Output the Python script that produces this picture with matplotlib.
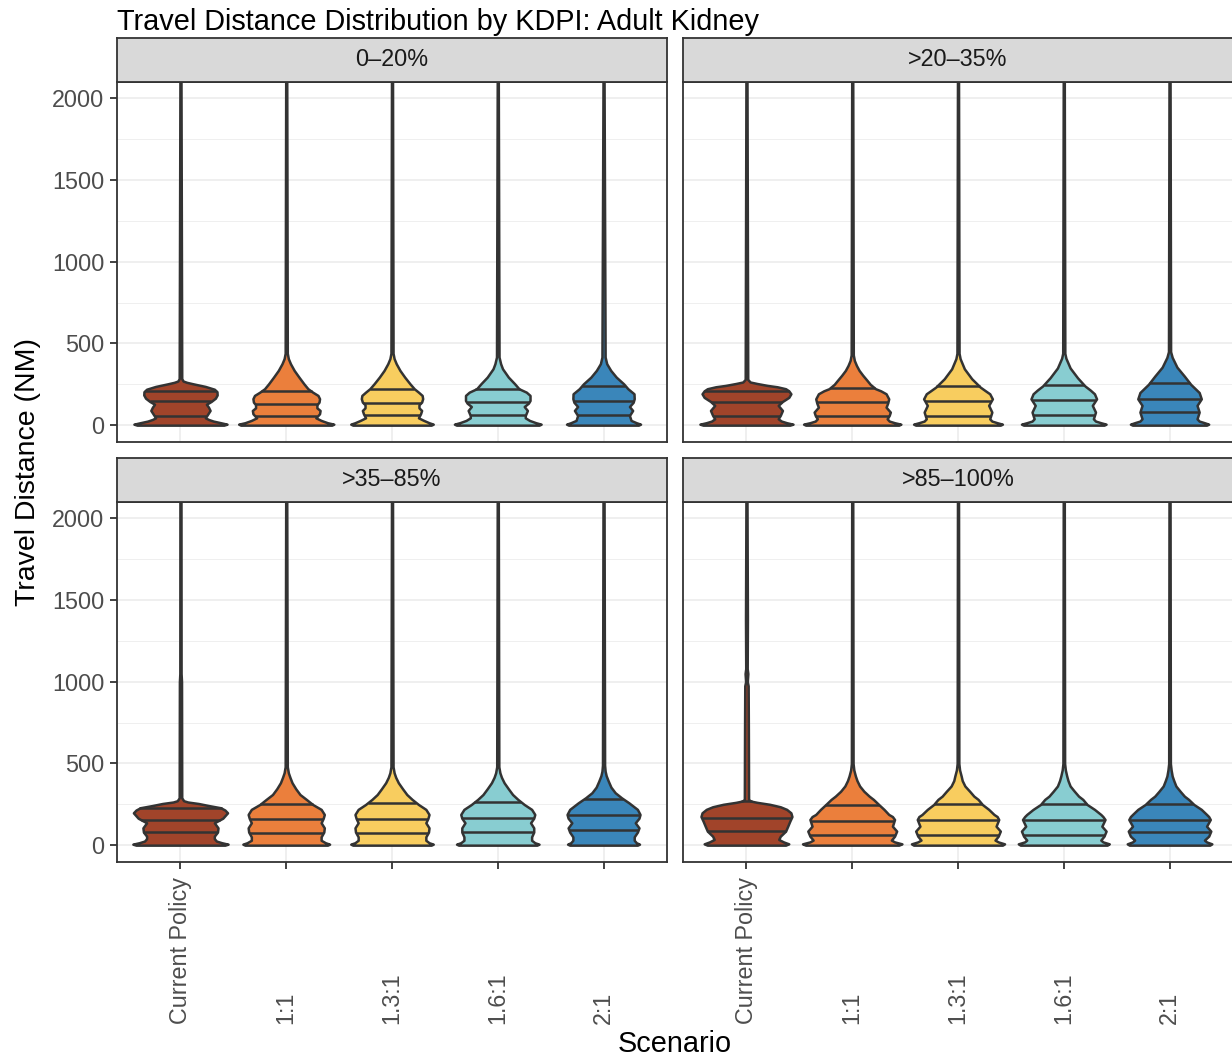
import matplotlib
matplotlib.use('Agg')
import matplotlib.pyplot as plt
import matplotlib.transforms as mtransforms
import numpy as np

plt.rcParams['font.family'] = ['Liberation Sans', 'DejaVu Sans']

TITLE = 'Travel Distance Distribution by KDPI: Adult Kidney'
X_TITLE = 'Scenario'
Y_TITLE = 'Travel Distance (NM)'
SCENARIOS = ['Current Policy', '1:1', '1.3:1', '1.6:1', '2:1']
KDPI_GROUPS = ['0–20%', '>20–35%', '>35–85%', '>85–100%']
COLORS = ['#A1442A', '#EB7F3C', '#F8CD5F', '#88CDD1', '#3A86BA']
Y_TICKS = [0, 500, 1000, 1500, 2000]
Y_MINOR = [250, 750, 1250, 1750]

# violin outlines: (distance NM, half width in category units)
SHAPE_0_20 = {
    'Current Policy': [(0, .41), (6, .44), (15, .38), (25, .31), (35, .265), (45, .235), (70, .26), (90, .28),
                       (110, .265), (128, .245), (145, .29), (165, .33), (185, .347), (205, .345), (220, .32),
                       (237, .235), (253, .12), (262, .06), (270, .025), (285, .012), (2100, .005)],
    '1:1': [(0, .43), (6, .45), (15, .39), (29, .33), (45, .28), (70, .315), (90, .32), (106, .29), (125, .29),
            (141, .31), (162, .315), (182, .30), (202, .25), (223, .205), (253, .167), (294, .12), (335, .075),
            (376, .04), (407, .02), (440, .01), (2100, .005)],
    '1.3:1': [(0, .37), (6, .39), (15, .35), (29, .30), (45, .25), (70, .27), (90, .28), (106, .255), (125, .255),
              (141, .28), (162, .29), (182, .285), (202, .25), (223, .21), (253, .17), (294, .12), (335, .075),
              (376, .04), (407, .02), (440, .01), (2100, .005)],
    '1.6:1': [(0, .39), (6, .41), (15, .36), (29, .30), (45, .26), (59, .26), (90, .28), (114, .25), (135, .29),
              (151, .305), (182, .305), (202, .27), (223, .20), (253, .16), (294, .10), (345, .045), (376, .027),
              (417, .012), (2100, .005)],
    '2:1': [(0, .33), (6, .35), (15, .31), (29, .26), (59, .245), (90, .275), (114, .245), (140, .28), (162, .29),
            (192, .288), (223, .23), (253, .19), (294, .12), (335, .068), (376, .03), (417, .015), (2100, .005)],
}
SHAPE_20_35 = {
    'Current Policy': [(0, .41), (6, .44), (15, .38), (25, .33), (39, .30), (60, .32), (90, .34), (121, .30),
                       (145, .34), (170, .40), (192, .42), (210, .40), (223, .37), (235, .29), (243, .20),
                       (255, .10), (264, .035), (280, .012), (2100, .005)],
    '1:1': [(0, .44), (6, .46), (15, .40), (25, .35), (39, .33), (60, .35), (80, .36), (110, .32), (135, .335),
            (161, .345), (192, .32), (210, .27), (223, .22), (250, .17), (274, .14), (305, .10), (335, .065),
            (365, .04), (396, .02), (430, .01), (2100, .005)],
    '1.3:1': [(0, .40), (6, .42), (15, .37), (25, .32), (39, .30), (80, .32), (121, .29), (161, .325), (192, .30),
              (210, .26), (233, .21), (284, .13), (345, .06), (407, .02), (440, .01), (2100, .005)],
    '1.6:1': [(0, .38), (6, .40), (15, .35), (25, .30), (39, .28), (80, .30), (121, .27), (161, .31), (192, .29),
              (215, .25), (240, .20), (290, .13), (350, .06), (410, .02), (440, .01), (2100, .005)],
    '2:1': [(0, .35), (6, .37), (15, .33), (25, .28), (39, .26), (80, .28), (121, .26), (161, .30), (200, .28),
            (225, .24), (250, .20), (300, .14), (355, .07), (415, .025), (450, .01), (2100, .005)],
}
SHAPE_35_85 = {
    'Current Policy': [(0, .42), (6, .45), (15, .39), (25, .34), (40, .32), (55, .32), (80, .35), (106, .355),
                       (137, .32), (165, .40), (198, .445), (215, .42), (229, .38), (242, .27), (255, .17),
                       (264, .07), (272, .03), (290, .012), (1000, .01), (1050, .006), (2100, .005)],
    '1:1': [(0, .39), (6, .41), (15, .37), (30, .33), (51, .33), (80, .355), (106, .36), (137, .33), (165, .35),
            (188, .36), (219, .33), (249, .25), (280, .19), (310, .13), (345, .09), (382, .055), (415, .035),
            (443, .02), (480, .01), (2100, .005)],
    '1.3:1': [(0, .37), (6, .39), (15, .35), (30, .32), (51, .32), (80, .345), (106, .35), (137, .32), (165, .34),
              (188, .35), (219, .32), (249, .25), (280, .19), (310, .14), (345, .10), (382, .06), (415, .035),
              (443, .02), (480, .01), (2100, .005)],
    '1.6:1': [(0, .37), (6, .39), (15, .35), (30, .32), (51, .32), (80, .34), (106, .34), (137, .31), (165, .34),
              (188, .35), (219, .32), (249, .25), (280, .19), (310, .14), (345, .10), (382, .06), (415, .035),
              (443, .02), (480, .01), (2100, .005)],
    '2:1': [(0, .32), (6, .34), (15, .31), (30, .29), (51, .29), (80, .32), (106, .335), (137, .30), (165, .335),
            (188, .345), (219, .32), (259, .24), (290, .17), (321, .11), (355, .07), (392, .045), (425, .025),
            (453, .015), (490, .01), (2100, .005)],
}
SHAPE_85_100 = {
    'Current Policy': [(0, .37), (8, .40), (20, .35), (35, .305), (55, .32), (86, .37), (116, .39), (147, .41),
                       (175, .43), (198, .42), (219, .38), (235, .32), (250, .22), (262, .10), (270, .04),
                       (280, .02), (500, .019), (700, .018), (975, .016), (1000, .008), (1050, .013), (1080, .007),
                       (1380, .009), (2100, .005)],
    '1:1': [(0, .44), (8, .47), (20, .40), (31, .37), (55, .40), (86, .42), (116, .38), (157, .40), (175, .38),
            (188, .345), (219, .30), (249, .25), (280, .20), (300, .16), (330, .11), (362, .07), (395, .045),
            (423, .03), (460, .015), (500, .008), (2100, .005)],
    '1.3:1': [(0, .42), (8, .44), (20, .38), (31, .35), (55, .38), (86, .40), (116, .36), (157, .385), (175, .37),
              (188, .34), (219, .29), (249, .23), (280, .19), (300, .15), (330, .11), (362, .065), (395, .04),
              (423, .03), (460, .015), (500, .008), (2100, .005)],
    '1.6:1': [(0, .41), (8, .43), (20, .37), (31, .35), (55, .38), (86, .40), (116, .36), (157, .39), (175, .37),
              (188, .35), (219, .29), (249, .22), (280, .18), (300, .14), (330, .10), (362, .06), (395, .04),
              (423, .028), (460, .015), (500, .008), (2100, .005)],
    '2:1': [(0, .38), (8, .40), (20, .35), (31, .33), (55, .37), (86, .39), (116, .35), (157, .385), (175, .37),
            (188, .35), (219, .30), (249, .23), (280, .18), (300, .14), (330, .10), (362, .06), (395, .04),
            (423, .025), (460, .015), (500, .008), (2100, .005)],
}
SHAPES = [SHAPE_0_20, SHAPE_20_35, SHAPE_35_85, SHAPE_85_100]

# 25/50/75% quantile lines (NM)
QUANT_0_20 = [[56, 145, 210], [53, 131, 206], [63, 135, 222], [61, 141, 219], [65, 147, 241]]
QUANT_20_35 = [[59, 141, 208], [59, 141, 227], [59, 145, 237], [65, 151, 247], [80, 161, 257]]
QUANT_35_85 = [[80, 157, 225], [76, 161, 249], [76, 161, 259], [80, 167, 263], [90, 185, 283]]
QUANT_85_100 = [[86, 167, 268], [65, 147, 245], [65, 153, 249], [65, 151, 249], [80, 157, 253]]
QUANTS = [QUANT_0_20, QUANT_20_35, QUANT_35_85, QUANT_85_100]

W, H = 1232, 1061
EDGE = '#333333'
GRID = '#EBEBEB'
LW = 1.8


def main():
    fig = plt.figure(figsize=(W / 100, H / 100), dpi=100)
    fig.patch.set_facecolor('white')

    for k, group in enumerate(KDPI_GROUPS):
        col, row = k % 2, k // 2
        left = 117 + col * 566
        top = 82 + row * 420
        ax = fig.add_axes([left / W, 1 - (top + 359.5) / H, 550 / W, 359.5 / H])
        strip = fig.add_axes([left / W, 1 - top / H, 550 / W, 44 / H])

        strip.set_facecolor('#D9D9D9')
        strip.set_xticks([])
        strip.set_yticks([])
        for sp in strip.spines.values():
            sp.set_color(EDGE)
            sp.set_linewidth(1.3)
        strip.text(0.5, 0.5, group, ha='center', va='center', fontsize=16.8,
                   color='#1A1A1A', transform=strip.transAxes)

        ax.set_xlim(0.4, 5.6)
        ax.set_ylim(-100, 2100)
        ax.set_xticks(range(1, len(SCENARIOS) + 1))
        ax.set_yticks(Y_TICKS)
        ax.set_yticks(Y_MINOR, minor=True)
        ax.grid(which='major', color=GRID, linewidth=1.1)
        ax.grid(which='minor', axis='y', color=GRID, linewidth=0.55)
        ax.set_axisbelow(True)
        for sp in ax.spines.values():
            sp.set_color(EDGE)
            sp.set_linewidth(1.3)
            sp.set_zorder(6)

        for i, name in enumerate(SCENARIOS):
            pts = np.array(SHAPES[k][name])
            y, w = pts[:, 0], pts[:, 1]
            x0 = i + 1
            ax.fill_betweenx(y, x0 - w, x0 + w, facecolor=COLORS[i], edgecolor=EDGE,
                             linewidth=LW, joinstyle='round', zorder=3)
            for q in QUANTS[k][i]:
                hw = np.interp(q, y, w)
                ax.plot([x0 - hw, x0 + hw], [q, q], color=EDGE, linewidth=LW,
                        solid_capstyle='butt', zorder=4)

        ax.tick_params(axis='y', which='major', length=5 if col == 0 else 0, width=1.3,
                       color=EDGE, labelsize=16.8, labelcolor='#4D4D4D', pad=4,
                       labelleft=(col == 0))
        ax.tick_params(axis='y', which='minor', length=0)
        ax.tick_params(axis='x', length=5 if row == 1 else 0, width=1.3, color=EDGE,
                       labelbottom=False)

        if row == 1:
            trans = mtransforms.blended_transform_factory(ax.transData, fig.transFigure)
            for i, name in enumerate(SCENARIOS):
                ax.text(i + 1, 1 - 1024 / H, name, rotation=90, ha='center', va='bottom',
                        fontsize=16.8, color='#4D4D4D', transform=trans)

    fig.text(117 / W, 1 - 30 / H, TITLE, ha='left', va='baseline', fontsize=20.8, color='black')
    fig.text(28 / W, 1 - 472 / H, Y_TITLE, rotation=90, ha='center', va='center',
             fontsize=20.5, color='black')
    fig.text(675 / W, 1 - 1044 / H, X_TITLE, ha='center', va='center', fontsize=20.8, color='black')

    fig.savefig('out.png', dpi=100)
    plt.close(fig)


if __name__ == '__main__':
    main()
